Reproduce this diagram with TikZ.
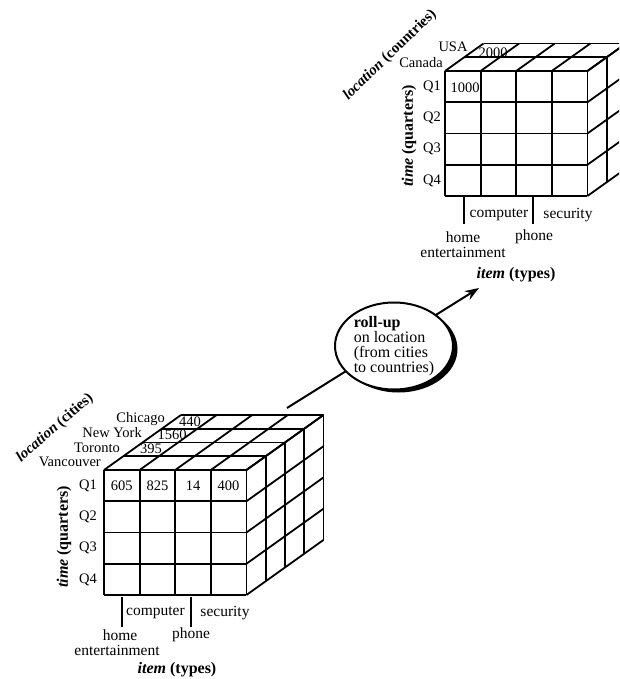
\documentclass[tikz,border=0pt]{standalone}
\usepackage{fontspec}
\setmainfont{Liberation Serif}
\usetikzlibrary{shapes.geometric,arrows.meta,shadows}

% cell size and depth step of the data cubes
\newcommand{\cubew}{35.6}
\newcommand{\cubeh}{31.25}
\newcommand{\cubedx}{19.25}
\newcommand{\cubedy}{13.75}

% 4 x 4 front face with #1 layers of depth, front top-left corner at the origin
\newcommand{\cubegrid}[1]{%
  \foreach \i in {0,...,4} {
    \draw[grid] (\i*\cubew,0) -- (\i*\cubew,-4*\cubeh);
    \draw[grid] (\i*\cubew,0) -- ++(#1*\cubedx,#1*\cubedy);
  }
  \foreach \j in {0,...,4} {
    \draw[grid] (0,-\j*\cubeh) -- (4*\cubew,-\j*\cubeh);
    \draw[grid] (4*\cubew,-\j*\cubeh) -- ++(#1*\cubedx,#1*\cubedy);
  }
  \foreach \k in {1,...,#1} {
    \draw[grid] (\k*\cubedx,\k*\cubedy) -- ++(4*\cubew,0) -- ++(0,-4*\cubeh);
  }
}

\begin{document}
\begin{tikzpicture}[x=1pt,y=1pt,
  grid/.style={line width=1.8pt, line join=round},
  txt/.style={font=\fontsize{14.5}{15}\selectfont, inner sep=0pt},
  cat/.style={font=\fontsize{15.5}{16}\selectfont, inner sep=0pt},
  axis/.style={font=\fontsize{16}{17}\selectfont\bfseries, inner sep=0pt},
  diagaxis/.style={font=\fontsize{15}{16}\selectfont\bfseries, inner sep=0pt},
  tick/.style={line width=1.8pt},
  flow/.style={line width=2pt, -{Stealth[length=14pt,width=10pt]}},
  oper/.style={ellipse, draw, line width=2pt, fill=white, inner sep=0pt,
    minimum width=118pt, minimum height=87pt, align=left,
    font=\fontsize{16}{14.8}\selectfont,
    drop shadow={shadow xshift=4.5pt, shadow yshift=-3pt, fill=black, opacity=1}}]
\useasboundingbox (0,0) rectangle (619,-679);
\clip (0,0) rectangle (619,-679);

% ---------- city-level cube ----------
\begin{scope}[shift={(104,-470)}]
  \cubegrid{4}
\end{scope}
\node[txt, anchor=east] (chicago) at (165,-419) {Chicago};
\node[txt, anchor=east] (newyork) at (142,-433) {New York};
\node[txt, anchor=east] (toronto) at (120,-448) {Toronto};
\node[txt, anchor=east] (vancouver) at (101,-462) {Vancouver};
\node[txt] (v440) at (190,-422) {440};
\node[txt] (v1560) at (172,-435) {1560};
\node[txt] (v395) at (151,-449) {395};
\node[txt] (bq1) at (88,-485.6) {Q1};
\node[txt] (bq2) at (88,-516.9) {Q2};
\node[txt] (bq3) at (88,-548.1) {Q3};
\node[txt] (bq4) at (88,-579.4) {Q4};
\node[txt] (v605) at (121.8,-486) {605};
\node[txt] (v825) at (157.4,-486) {825};
\node[txt] (v14) at (193,-486) {14};
\node[txt] (v400) at (228.6,-486) {400};
\node[axis, rotate=90] (btime) at (64,-537) {\textit{time} (quarters)};
\node[diagaxis, rotate=41] (bloc) at (55,-428) {\textit{location} (cities)};
\coordinate (bt1a) at (122,-597); \coordinate (bt1b) at (122,-627);
\coordinate (bt2a) at (191,-597); \coordinate (bt2b) at (191,-627);
\draw[tick] (bt1a) -- (bt1b);
\draw[tick] (bt2a) -- (bt2b);
\node[cat] (bcomp) at (155.5,-613) {computer};
\node[cat] (bsec) at (225,-613) {security};
\node[cat] (bhome) at (120,-635) {home};
\node[cat] (bphone) at (191,-635) {phone};
\node[cat] (bent) at (117,-650) {entertainment};
\node[axis] (bitem) at (177,-670) {\textit{item} (types)};

% ---------- country-level cube ----------
\begin{scope}[shift={(445,-71)}]
  \cubegrid{2}
\end{scope}
\node[txt] (usa) at (453,-47) {USA};
\node[txt, anchor=east] (canada) at (443,-63) {Canada};
\node[txt] (v2000) at (493,-53) {2000};
\node[txt] (v1000) at (465,-88) {1000};
\node[txt] (tq1) at (432,-86.6) {Q1};
\node[txt] (tq2) at (432,-117.9) {Q2};
\node[txt] (tq3) at (432,-149.1) {Q3};
\node[txt] (tq4) at (432,-180.4) {Q4};
\node[axis, rotate=90] (ttime) at (409,-136) {\textit{time} (quarters)};
\node[diagaxis, rotate=44] (tloc) at (390,-55) {\textit{location} (countries)};
\coordinate (tt1a) at (464,-196); \coordinate (tt1b) at (464,-224);
\coordinate (tt2a) at (533,-196); \coordinate (tt2b) at (533,-224);
\draw[tick] (tt1a) -- (tt1b);
\draw[tick] (tt2a) -- (tt2b);
\node[cat] (tcomp) at (499,-215) {computer};
\node[cat] (tsec) at (568,-215) {security};
\node[cat] (thome) at (463,-237) {home};
\node[cat] (tphone) at (534,-237) {phone};
\node[cat] (tent) at (463,-252) {entertainment};
\node[axis] (titem) at (516,-275) {\textit{item} (types)};

% ---------- roll-up operation ----------
\coordinate (rollstart) at (287,-408);
\coordinate (rollend) at (479,-288);
\draw[flow] (rollstart) -- (rollend);
\node[oper] (roll) at (394,-346) {\textbf{roll-up}\\on location\\(from cities\\to countries)};
\end{tikzpicture}
\end{document}
